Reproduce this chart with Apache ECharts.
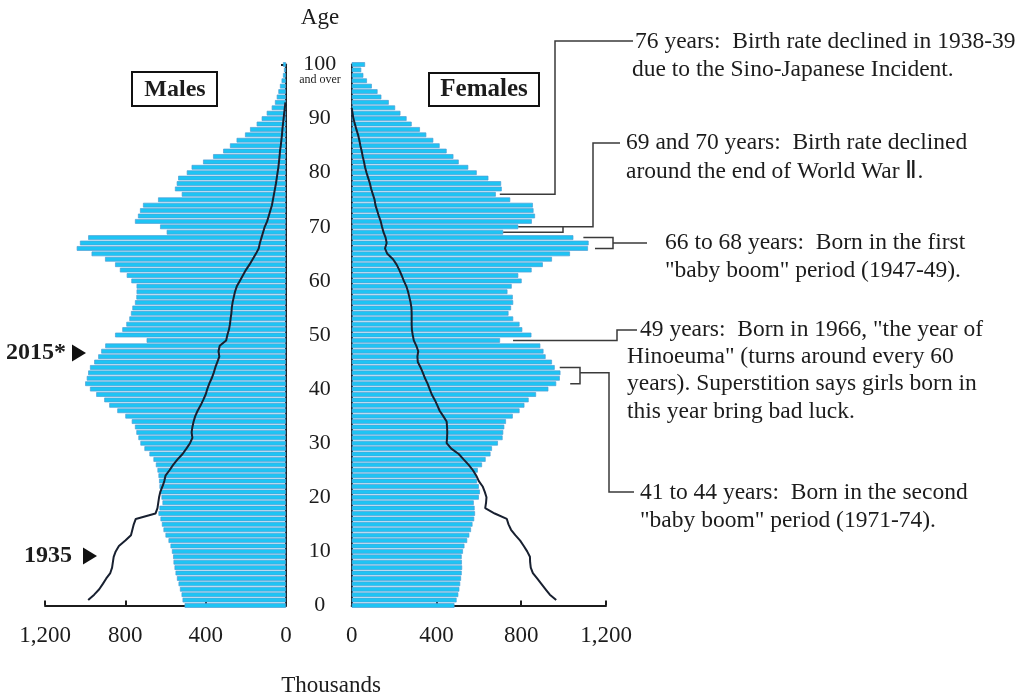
<!DOCTYPE html>
<html>
<head>
<meta charset="utf-8">
<script src="https://cdn.jsdelivr.net/npm/echarts@6/dist/echarts.min.js"></script>
<style>
  html, body { margin: 0; padding: 0; background: #fff; }
  #main { width: 1021px; height: 698px; }
</style>
</head>
<body>
<div id="main"></div>
<script>
// ages 0 .. 100 (100 = "100 and over")
var ages = [0,1,2,3,4,5,6,7,8,9,10,11,12,13,14,15,16,17,18,19,20,21,22,23,24,25,26,27,28,29,
  30,31,32,33,34,35,36,37,38,39,40,41,42,43,44,45,46,47,48,49,50,51,52,53,54,55,56,57,58,59,
  60,61,62,63,64,65,66,67,68,69,70,71,72,73,74,75,76,77,78,79,80,81,82,83,84,85,86,87,88,89,
  90,91,92,93,94,95,96,97,98,99,100];
var ageLabels = [0, 10, 20, 30, 40, 50, 60, 70, 80, 90, 100];
var popTicks = [0, 400, 800, 1200];

// 2015 population, thousands
var males2015 = [505,515,520,528,535,543,550,555,560,562,
  568,575,585,600,610,618,625,635,630,615,
  620,625,630,632,635,640,648,660,680,705,
  725,735,745,752,768,800,840,880,905,945,
  976,1000,992,985,976,955,935,920,900,694,
  851,815,795,780,772,765,752,745,744,744,
  770,793,827,851,901,968,1042,1026,985,594,
  627,752,737,727,712,637,519,553,544,537,
  494,470,413,363,313,279,246,204,179,146,
  121,96,71,55,46,38,30,22,15,10,15];
var females2015 = [485,495,503,508,512,516,519,521,520,519,
  525,532,545,555,563,570,578,582,580,576,
  600,605,600,592,588,595,615,632,655,662,
  690,712,715,720,728,760,792,815,835,870,
  928,965,982,985,958,945,915,905,890,700,
  848,805,792,762,740,752,762,760,735,755,
  802,786,849,902,945,1030,1115,1118,1046,715,
  786,850,865,858,855,748,680,708,705,645,
  590,550,505,480,448,415,385,352,322,283,
  259,230,205,175,140,122,95,72,55,45,63];

// 1935 population (line), thousands
var males1935 = [null,985,955,930,912,895,875,866,862,858,
  848,832,800,772,765,758,748,650,640,636,
  632,626,615,606,600,580,562,540,515,496,
  478,466,470,466,460,452,440,425,412,400,
  392,382,370,360,352,342,332,336,330,298,
  292,284,279,276,272,270,266,260,254,245,
  230,215,200,182,166,150,136,130,122,114,
  106,94,86,78,70,65,60,55,50,46,
  42,38,35,32,30,26,23,20,18,15,
  12,9,6,3,null,null,null,null,null,null,null];
var females1935 = [null,965,935,915,895,875,855,845,842,841,
  828,812,795,772,752,740,732,675,630,634,
  636,628,618,600,588,572,552,528,505,470,
  448,450,451,450,448,432,415,404,392,378,
  368,358,346,336,325,312,310,314,305,293,
  288,284,283,283,283,282,278,272,266,258,
  246,236,225,212,195,168,157,165,160,150,
  143,137,128,120,112,108,100,92,86,78,
  70,63,58,52,47,41,36,30,22,15,
  8,4,0,null,null,null,null,null,null,null,null];

var FONT = "'Liberation Serif', 'Times New Roman', serif";
var INK = '#1c1c1c';

var chart = echarts.init(document.getElementById('main'));

function fmtPop(v) {
  return v >= 1000 ? Math.floor(v / 1000) + ',' + String(v % 1000).padStart(3, '0') : String(v);
}

var xCommon = {
  type: 'value', min: 0, max: 1200, interval: 400,
  axisLine: { show: true, lineStyle: { color: INK, width: 2 } },
  axisTick: { show: true, inside: true, length: 5, lineStyle: { color: INK, width: 2 } },
  axisLabel: { fontFamily: FONT, fontSize: 23, color: INK, margin: 19, formatter: fmtPop },
  splitLine: { show: false }
};
var yCommon = {
  type: 'category', data: ages, boundaryGap: false,
  axisLine: { show: true, lineStyle: { color: INK, width: 2 } },
  axisTick: { show: true, inside: true, length: 5, interval: 9, lineStyle: { color: INK, width: 2 } },
  splitLine: { show: false }
};
var barStyle = { color: '#1ec4f4', borderColor: '#4f9dd4', borderWidth: 0.7 };
var lineStyle = { color: '#182030', width: 2 };

var option = {
  animation: false,
  backgroundColor: '#fff',
  grid: [
    { left: 45, width: 241, top: 64.5, height: 541 },
    { left: 351.7, width: 254.3, top: 64.5, height: 541 }
  ],
  xAxis: [
    Object.assign({}, xCommon, { gridIndex: 0, inverse: true }),
    Object.assign({}, xCommon, { gridIndex: 1 })
  ],
  yAxis: [
    Object.assign({}, yCommon, { gridIndex: 0, position: 'right', axisLabel: { show: false } }),
    Object.assign({}, yCommon, { gridIndex: 1, position: 'left',
      axisLabel: { show: true, interval: 9, align: 'center', margin: 32,
        fontFamily: FONT, fontSize: 22, color: INK,
        formatter: function (v) { return ageLabels.indexOf(+v) >= 0 ? v : ''; } } })
  ],
  series: [
    { name: 'Males 2015', type: 'bar', xAxisIndex: 0, yAxisIndex: 0, data: males2015,
      barWidth: 4.7, itemStyle: barStyle, silent: true },
    { name: 'Females 2015', type: 'bar', xAxisIndex: 1, yAxisIndex: 1, data: females2015,
      barWidth: 4.7, itemStyle: barStyle, silent: true },
    { name: 'Males 1935', type: 'line', xAxisIndex: 0, yAxisIndex: 0, data: males1935,
      symbol: 'none', lineStyle: lineStyle, z: 5 },
    { name: 'Females 1935', type: 'line', xAxisIndex: 1, yAxisIndex: 1, data: females1935,
      symbol: 'none', lineStyle: lineStyle, z: 5 }
  ]
};
chart.setOption(option);

// annotation helpers, anchored on the female bars
function fx(v) { return chart.convertToPixel({ xAxisIndex: 1 }, v); }
function fy(a) { return chart.convertToPixel({ yAxisIndex: 1 }, a); }
function barEnd(a) { return fx(females2015[a]); }

function txt(s, x, y, opts) {
  opts = opts || {};
  return {
    type: 'text', x: x, y: y, z: 10, silent: true,
    style: {
      text: s, fill: INK,
      font: (opts.bold ? 'bold ' : '') + (opts.size || 23.5) + 'px ' + FONT,
      align: opts.align || 'left', textAlign: opts.align || 'left',
      verticalAlign: 'middle', textVerticalAlign: 'middle'
    }
  };
}
function pl(points) {
  return { type: 'polyline', z: 9, silent: true, shape: { points: points },
    style: { stroke: '#3a3a3a', lineWidth: 1.5, fill: null } };
}
function tri(x, y) {
  return { type: 'polygon', z: 10, silent: true,
    shape: { points: [[x, y - 8.5], [x, y + 8.5], [x + 14, y]] }, style: { fill: '#111' } };
}

var g = [];
// titles & axis captions
g.push(txt('Age', 320, 18, { align: 'center', size: 23 }));
g.push(txt('and over', 320, 80, { align: 'center', size: 12 }));
g.push(txt('Thousands', 331, 686, { align: 'center', size: 23 }));
g.push({ type: 'rect', z: 9, silent: true, shape: { x: 132, y: 72, width: 85, height: 34 },
  style: { fill: null, stroke: '#111', lineWidth: 2 } });
g.push(txt('Males', 175, 89.5, { align: 'center', size: 24, bold: true }));
g.push({ type: 'rect', z: 9, silent: true, shape: { x: 429, y: 73, width: 110, height: 33 },
  style: { fill: null, stroke: '#111', lineWidth: 2 } });
g.push(txt('Females', 484, 90, { align: 'center', size: 25, bold: true }));
g.push(txt('2015*', 6, 353, { size: 24, bold: true }));
g.push(tri(72, 353));
g.push(txt('1935', 72, 556, { align: 'right', size: 24, bold: true }));
g.push(tri(83, 556));

// 76 years
g.push(pl([[barEnd(76) + 4, fy(76)], [555, fy(76)], [555, 41], [633, 41]]));
g.push(txt('76 years:  Birth rate declined in 1938-39', 635, 42));
g.push(txt('due to the Sino-Japanese Incident.', 632, 70));
// 69 and 70 years
g.push(pl([[barEnd(70), fy(70)], [593, fy(70)], [593, 143], [620, 143]]));
g.push(pl([[barEnd(69), fy(69)], [563, fy(69)], [563, fy(70)]]));
g.push(txt('69 and 70 years:  Birth rate declined', 626, 143));
g.push(txt('around the end of World War \u2161.', 626, 172));
// 66 to 68 years
g.push(pl([[barEnd(68) + 10, fy(68)], [613, fy(68)], [613, fy(66)], [barEnd(66) + 7, fy(66)]]));
g.push(pl([[613, fy(67)], [647, fy(67)]]));
g.push(txt('66 to 68 years:  Born in the first', 665, 243));
g.push(txt('"baby boom" period (1947-49).', 665, 271));
// 49 years
g.push(pl([[barEnd(49) + 13, fy(49)], [617, fy(49)], [617, 330], [637, 330]]));
g.push(txt('49 years:  Born in 1966, "the year of', 640, 330));
g.push(txt('Hinoeuma" (turns around every 60', 627, 357));
g.push(txt('years). Superstition says girls born in', 627, 384));
g.push(txt('this year bring bad luck.', 627, 412));
// 41 to 44 years
g.push(pl([[barEnd(44) + 5, fy(44)], [580, fy(44)], [580, fy(41)], [barEnd(41) + 14, fy(41)]]));
g.push(pl([[580, fy(42.5)], [609, fy(42.5)], [609, 492], [634, 492]]));
g.push(txt('41 to 44 years:  Born in the second', 640, 493));
g.push(txt('"baby boom" period (1971-74).', 640, 521));

chart.setOption({ graphic: g });
</script>
</body>
</html>
